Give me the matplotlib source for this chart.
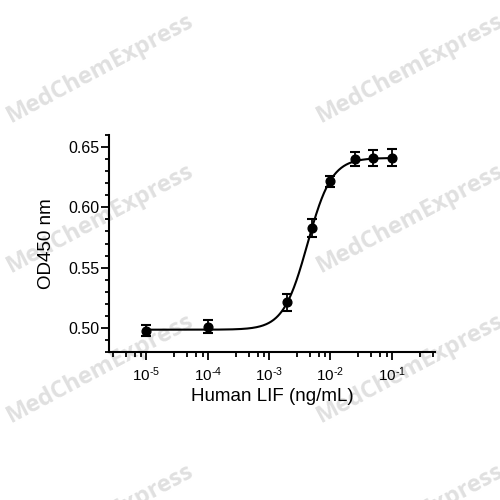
import numpy as np
import matplotlib
matplotlib.use("Agg")
import matplotlib.pyplot as plt
from matplotlib.ticker import FixedLocator, MultipleLocator, LogLocator, NullFormatter, FuncFormatter

plt.rcParams['font.family'] = ['Liberation Sans', 'DejaVu Sans']
plt.rcParams['mathtext.fontset'] = 'custom'
plt.rcParams['mathtext.rm'] = 'Liberation Sans'
plt.rcParams['mathtext.it'] = 'Liberation Sans:italic'
plt.rcParams['mathtext.bf'] = 'Liberation Sans:bold'

# Data
conc = [1e-5, 1e-4, 2e-3, 5e-3, 1e-2, 2.5e-2, 5e-2, 1e-1]          # ng/mL
od450 = [0.4975, 0.501, 0.5213, 0.583, 0.6217, 0.640, 0.6407, 0.641]
sem = [0.0046, 0.0055, 0.007, 0.0075, 0.0046, 0.006, 0.0065, 0.007]

# Fitted 4PL parameters
fit_bottom = 0.4985
fit_top = 0.641
fit_log_ec50 = -2.373
fit_hill = 2.2

xlabel = "Human LIF (ng/mL)"
ylabel = "OD450 nm"
y_major = [0.50, 0.55, 0.60, 0.65]
x_major = [1e-5, 1e-4, 1e-3, 1e-2, 1e-1]
watermark = "MedChemExpress"

fig = plt.figure(figsize=(5, 5), dpi=100)
fig.patch.set_facecolor('white')

# watermarks
for cx in (100, 410):
    for cy in (68, 218, 368, 518):
        fig.text(cx / 500, 1 - cy / 500, watermark, rotation=28, ha='center', va='center',
                 fontsize=17, fontweight='bold', family=['Open Sans', 'DejaVu Sans'],
                 color='#e0e0e0', zorder=-5)

ax = fig.add_axes([109 / 500, 1 - 352 / 500, (435 - 109) / 500, (352 - 135) / 500])
ax.set_facecolor('none')

xs = np.logspace(np.log10(conc[0]), np.log10(conc[-1]), 400)
ys = fit_bottom + (fit_top - fit_bottom) / (1 + 10 ** ((fit_log_ec50 - np.log10(xs)) * fit_hill))
ax.plot(xs, ys, color='black', lw=1.5, zorder=3)

ax.errorbar(conc, od450, yerr=sem, fmt='o', color='black', ms=6.3, capsize=3.3,
            elinewidth=1.3, capthick=1.5, zorder=4)

ax.set_xscale('log')
ax.set_xlim(2.46e-6, 0.508)
ax.set_ylim(0.48, 0.66)

ax.xaxis.set_major_locator(FixedLocator(x_major))
ax.xaxis.set_minor_locator(LogLocator(base=10, subs=(2.85, 4.65, 6.5, 8.3), numticks=20))
ax.xaxis.set_minor_formatter(NullFormatter())
ax.xaxis.set_major_formatter(FuncFormatter(
    lambda v, p: r'$10^{\text{-}%d}$' % abs(int(round(np.log10(v))))))

ax.yaxis.set_major_locator(FixedLocator(y_major))
ax.yaxis.set_minor_locator(MultipleLocator(0.01))
ax.yaxis.set_major_formatter(FuncFormatter(lambda v, p: '%.2f' % v))

for s in ('top', 'right'):
    ax.spines[s].set_visible(False)
for s in ('left', 'bottom'):
    ax.spines[s].set_linewidth(1.5)

ax.tick_params(axis='both', which='major', width=1.3, direction='out')
ax.tick_params(axis='both', which='minor', width=1.3, direction='out')
ax.tick_params(axis='y', which='major', length=5.5, labelsize=11.5, pad=1)
ax.tick_params(axis='y', which='minor', length=3)
ax.tick_params(axis='x', which='major', length=6, labelsize=11, pad=3.5)
ax.tick_params(axis='x', which='minor', length=3.5)

ax.set_xlabel(xlabel, fontsize=13.5, labelpad=3)
ax.set_ylabel(ylabel, fontsize=13.5, labelpad=10)

fig.savefig('out.png', dpi=100, facecolor='white')
